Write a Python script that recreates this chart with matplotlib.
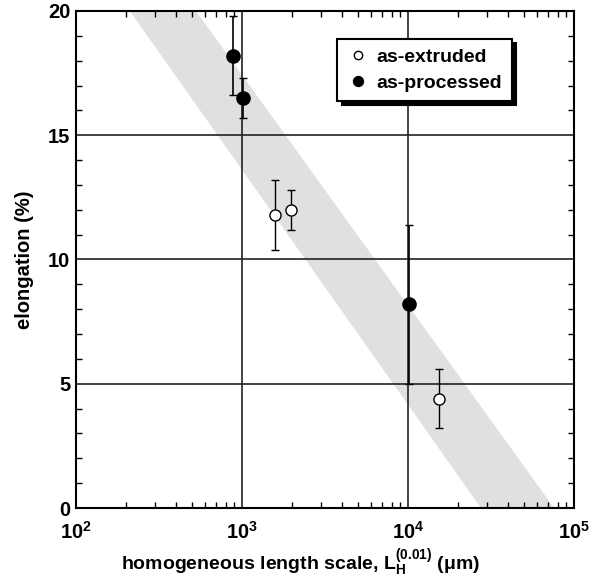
import matplotlib
matplotlib.use("Agg")
import matplotlib.pyplot as plt
from matplotlib.patches import Polygon
from matplotlib.ticker import LogLocator, MultipleLocator, FixedLocator, NullFormatter

plt.rcParams['font.family'] = ['Liberation Sans', 'DejaVu Sans']
plt.rcParams['font.weight'] = 'bold'
plt.rcParams['mathtext.fontset'] = 'custom'
plt.rcParams['mathtext.rm'] = 'Liberation Sans:bold'
plt.rcParams['mathtext.bf'] = 'Liberation Sans:bold'
plt.rcParams['mathtext.it'] = 'Liberation Sans:bold'

# Data
extruded_x = [1580, 1980, 15400]
extruded_y = [11.8, 12.0, 4.4]
extruded_lo = [10.4, 11.2, 3.2]
extruded_hi = [13.2, 12.8, 5.6]

processed_x = [880, 1010, 10100]
processed_y = [18.2, 16.5, 8.2]
processed_lo = [16.6, 15.7, 5.0]
processed_hi = [19.8, 17.3, 11.4]

band_x = [211, 528, 75800, 27500]
band_y = [20, 20, 0, 0]

fig = plt.figure(figsize=(5.98, 5.78), dpi=100)
ax = fig.add_axes([0.127, 0.1211, 0.833, 0.8599])
ax.set_xscale('log')
ax.set_xlim(1e2, 1e5)
ax.set_ylim(0, 20)

ax.add_patch(Polygon(list(zip(band_x, band_y)), closed=True, facecolor='#e0e0e0',
                     edgecolor='none', zorder=0))

for v in [1e3, 1e4]:
    ax.axvline(v, color='#222222', lw=1.2, zorder=1)
for v in [5, 10, 15]:
    ax.axhline(v, color='#222222', lw=1.2, zorder=1)

def yerr(y, lo, hi):
    return [[a - b for a, b in zip(y, lo)], [b - a for a, b in zip(y, hi)]]

ax.errorbar(extruded_x, extruded_y, yerr=yerr(extruded_y, extruded_lo, extruded_hi),
            fmt='none', ecolor='black', elinewidth=1.0, capsize=3, capthick=1.0, zorder=3)
ax.errorbar(processed_x, processed_y, yerr=yerr(processed_y, processed_lo, processed_hi),
            fmt='none', ecolor='black', elinewidth=1.2, capsize=3, capthick=1.0, zorder=3)

ax.plot(extruded_x, extruded_y, 'o', ms=8, mfc='white', mec='black', mew=1.0,
        ls='none', zorder=4, label='as-extruded')
ax.plot(processed_x, processed_y, 'o', ms=9.5, mfc='black', mec='black',
        ls='none', zorder=4, label='as-processed')

ax.xaxis.set_major_locator(FixedLocator([1e2, 1e3, 1e4, 1e5]))
ax.xaxis.set_minor_locator(LogLocator(base=10, subs=range(2, 10)))
ax.xaxis.set_minor_formatter(NullFormatter())
ax.yaxis.set_major_locator(MultipleLocator(5))
ax.yaxis.set_minor_locator(MultipleLocator(1))
ax.tick_params(which='both', direction='in', top=True, right=True)
ax.tick_params(which='major', length=0, labelsize=14.5)
ax.tick_params(axis='x', which='major', pad=9)
ax.tick_params(axis='y', which='major', pad=4)
ax.tick_params(which='minor', length=4, width=1)
for lab in ax.get_xticklabels() + ax.get_yticklabels():
    lab.set_fontweight('bold')
for s in ax.spines.values():
    s.set_linewidth(1.5)

ax.set_xlabel(r'homogeneous length scale, L$_\mathregular{H}^\mathregular{(0.01)}$ (μm)',
              fontsize=14, fontweight='bold')
ax.xaxis.set_label_coords(0.45, -0.08)
ax.set_ylabel('elongation (%)', fontsize=14.5, fontweight='bold', labelpad=10)

leg = ax.legend(loc='upper left', bbox_to_anchor=(0.525, 0.944), frameon=True,
                fancybox=False, shadow={'color': 'black', 'alpha': 1.0, 'ox': 3, 'oy': -3},
                fontsize=14, handletextpad=0.4, borderpad=0.5, labelspacing=0.4,
                handlelength=1.1, markerscale=0.75, borderaxespad=0)
leg.get_frame().set_edgecolor('black')
leg.get_frame().set_linewidth(1.5)
for t in leg.get_texts():
    t.set_fontweight('bold')

fig.savefig('out.png', dpi=100)
